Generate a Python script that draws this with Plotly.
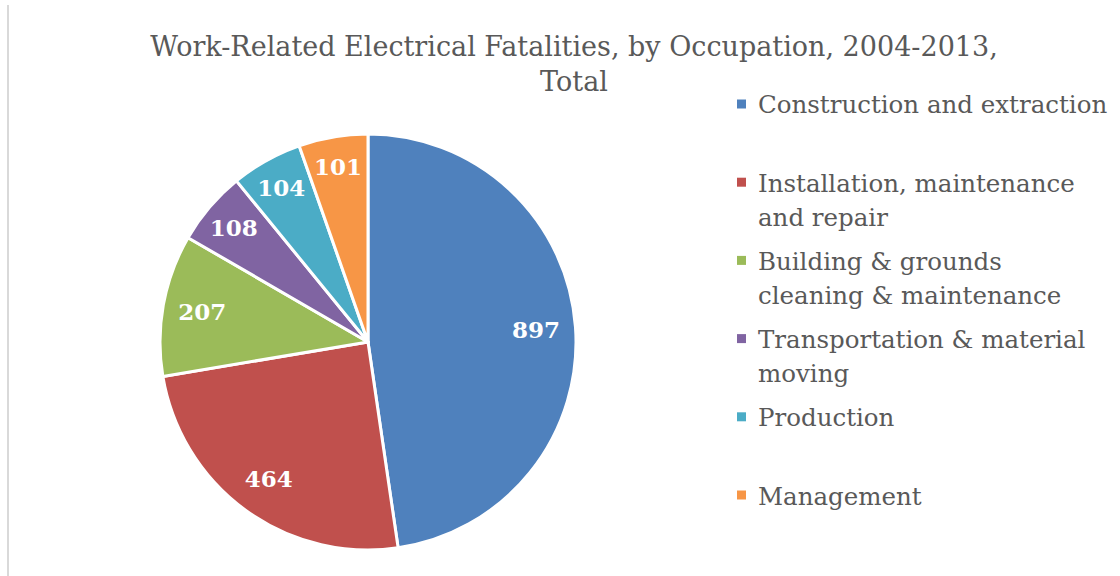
import plotly.graph_objects as go

# ---- data ----
categories = [
    "Construction and extraction",
    "Installation, maintenance and repair",
    "Building & grounds cleaning & maintenance",
    "Transportation & material moving",
    "Production",
    "Management",
]
legend_lines = [
    ["Construction and extraction"],
    ["Installation, maintenance", "and repair"],
    ["Building & grounds", "cleaning & maintenance"],
    ["Transportation & material", "moving"],
    ["Production"],
    ["Management"],
]
values = [897, 464, 207, 108, 104, 101]
colors = ["#4F81BD", "#C0504D", "#9BBB59", "#8064A2", "#4BACC6", "#F79646"]
title_text = "Work-Related Electrical Fatalities, by Occupation, 2004-2013,<br>Total"

W, H = 1120, 576
FONT = "DejaVu Serif"
GREY = "#595959"

# pie placement (pixels)
cx, cy, r = 368, 342, 208
dom = dict(x=[(cx - r) / W, (cx + r) / W], y=[(H - cy - r) / H, (H - cy + r) / H])

fig = go.Figure()
# coloured slices
fig.add_trace(go.Pie(
    labels=categories,
    values=values,
    sort=False,
    direction="clockwise",
    rotation=0,
    marker=dict(colors=colors, line=dict(color="white", width=3)),
    textinfo="none",
    domain=dom,
    showlegend=False,
    hoverinfo="label+value",
))
# value labels placed in the outer ring (like Excel's best-fit labels)
fig.add_trace(go.Pie(
    labels=categories,
    values=values,
    sort=False,
    direction="clockwise",
    rotation=0,
    hole=0.62,
    marker=dict(colors=["rgba(0,0,0,0)"] * len(values), line=dict(width=0)),
    textinfo="value",
    textposition="inside",
    insidetextorientation="horizontal",
    textfont=dict(family=FONT, size=23, color="white", weight="bold"),
    domain=dom,
    showlegend=False,
    hoverinfo="skip",
))

annotations = []
shapes = []
# manual legend
first_center = 104
pitch = 78.2
line_pitch = 34
for i, lines in enumerate(legend_lines):
    yc = first_center + i * pitch
    shapes.append(dict(
        type="rect", xref="paper", yref="paper",
        x0=737 / W, x1=746 / W, y0=1 - (yc + 4.5) / H, y1=1 - (yc - 4.5) / H,
        fillcolor=colors[i], line=dict(width=0),
    ))
    for j, t in enumerate(lines):
        annotations.append(dict(
            text=t, xref="paper", yref="paper",
            x=756 / W, y=1 - (yc + j * line_pitch + 1) / H,
            xanchor="left", yanchor="middle", showarrow=False,
            font=dict(family=FONT, size=24.5, color=GREY),
        ))

# left border line
shapes.append(dict(
    type="line", xref="paper", yref="paper",
    x0=8 / W, x1=8 / W, y0=0, y1=1 - 5 / H,
    line=dict(color="#D9D9D9", width=2),
))

fig.update_layout(
    width=W, height=H,
    margin=dict(l=0, r=0, t=0, b=0),
    paper_bgcolor="white",
    plot_bgcolor="white",
    title=dict(
        text=title_text,
        x=574 / W, xanchor="center",
        y=1 - 56 / H, yanchor="top",
        font=dict(family=FONT, size=27, color=GREY),
    ),
    annotations=annotations,
    shapes=shapes,
    showlegend=False,
)

fig.write_html(
    "out.html",
    config={"displayModeBar": False},
    post_script="document.body.style.margin='0';document.body.style.padding='0';",
)
